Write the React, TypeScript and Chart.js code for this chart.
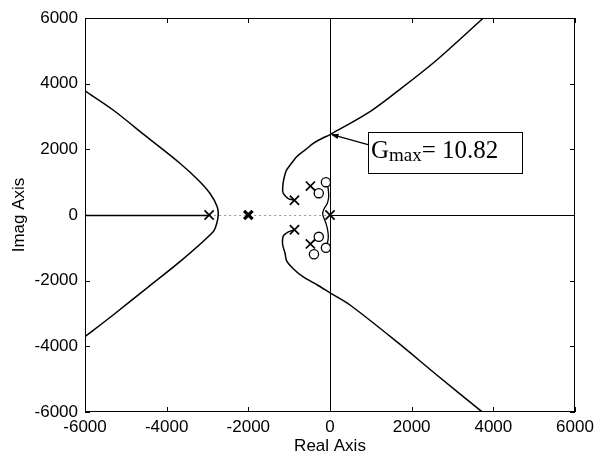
import { useEffect, useRef } from "react";
import { Chart, registerables } from "chart.js";

Chart.register(...registerables);

// ---- data ----
const realTicks = [-6000, -4000, -2000, 0, 2000, 4000, 6000];
const imagTicks = [-6000, -4000, -2000, 0, 2000, 4000, 6000];

const leftBranch = [
  [-6000, 3780], [-5311, 3198], [-4493, 2385], [-3676, 1575], [-3186, 1014],
  [-2941, 661], [-2762, 253], [-2738, 0], [-2775, -260], [-2860, -508],
  [-3676, -1422], [-4493, -2233], [-5311, -3046], [-6000, -3707],
];

const upperBranch = [
  [-870, 450], [-1022, 497], [-1140, 650], [-1160, 761], [-1144, 1005],
  [-1100, 1250], [-1061, 1371], [-980, 1513], [-816, 1776], [-600, 1990],
  [-409, 2184], [-200, 2330], [0, 2450], [980, 3147], [1797, 3908],
  [2615, 4721], [3757, 6000],
];

const lowerBranch = [
  [-870, -450], [-1030, -520], [-1144, -640], [-1160, -900], [-1103, -1150],
  [-1061, -1400], [-900, -1635], [-654, -1888], [-300, -2140], [0, -2370],
  [490, -2741], [1634, -3859], [2615, -4874], [3718, -5990],
];

const innerBranch = [
  [-100, 1000], [-65, 934], [-41, 761], [-33, 558], [-65, 355], [-139, 203],
  [-180, 51], [-163, -51], [-114, -203], [-65, -406], [-41, -660],
  [-65, -863], [-100, -1000],
];

const upperPairSegment = [[-480, 880], [-275, 665]];
const lowerPairSegment = [[-480, -880], [-275, -665]];

const realLocusSegment = [[-6000, 0], [-2960, 0]];
const realAxisDotted = [[-2960, 0], [0, 0]];
const realAxisRight = [[0, 0], [6000, 0]];
const imagAxisLine = [[0, -6000], [0, 6000]];

const poles = [[-2960, 0], [-870, 450], [-870, -450], [-480, 880], [-480, -880], [0, 0]];
const doublePoles = [[-2000, 0]];
const zeros = [[-100, 1000], [-100, -1000], [-275, 665], [-275, -665], [-392, -1197]];

const gmaxPoint = [0, 2450];
const gmaxValue = "10.82";

const xTitle = "Real Axis";
const yTitle = "Imag Axis";

// ---- helpers ----
const pts = (arr: number[][]) => arr.map(([x, y]) => ({ x, y }));
const FONT = '"Liberation Sans", Arial, sans-serif';

const lineDs = (arr: number[][], extra: any = {}) => ({
  data: pts(arr),
  showLine: true,
  borderColor: "#000",
  borderWidth: 1.5,
  pointRadius: 0,
  fill: false,
  tension: 0.3,
  order: 2,
  ...extra,
});

const snap = (v: number) => Math.round(v) + 0.5;

const framePlugin = {
  id: "frame",
  beforeDatasetsDraw(chart: any) {
    const { ctx, scales } = chart;
    const xs = scales.x;
    const ys = scales.y;
    ctx.save();
    ctx.strokeStyle = "#000";
    ctx.lineWidth = 1;
    ctx.beginPath();
    // imaginary axis line
    const vx = snap(xs.getPixelForValue(imagAxisLine[0][0]));
    ctx.moveTo(vx, ys.getPixelForValue(imagAxisLine[0][1]));
    ctx.lineTo(vx, ys.getPixelForValue(imagAxisLine[1][1]));
    // right part of real axis
    const hy = snap(ys.getPixelForValue(realAxisRight[0][1]));
    ctx.moveTo(xs.getPixelForValue(realAxisRight[0][0]), hy);
    ctx.lineTo(xs.getPixelForValue(realAxisRight[1][0]), hy);
    ctx.stroke();
    // dotted middle part
    ctx.strokeStyle = "#999";
    ctx.setLineDash([2, 3]);
    ctx.beginPath();
    ctx.moveTo(xs.getPixelForValue(realAxisDotted[0][0]), hy);
    ctx.lineTo(xs.getPixelForValue(realAxisDotted[1][0]), hy);
    ctx.stroke();
    ctx.setLineDash([]);
    // solid real-axis locus segment
    ctx.strokeStyle = "#000";
    ctx.lineWidth = 1.5;
    ctx.beginPath();
    ctx.moveTo(xs.getPixelForValue(realLocusSegment[0][0]), hy);
    ctx.lineTo(xs.getPixelForValue(realLocusSegment[1][0]), hy);
    ctx.stroke();
    ctx.restore();
  },
  afterDraw(chart: any) {
    const { ctx, chartArea, scales } = chart;
    const { left, right, top, bottom } = chartArea;
    const xs = scales.x;
    const ys = scales.y;
    ctx.save();
    ctx.strokeStyle = "#000";
    ctx.lineWidth = 1;
    ctx.strokeRect(left + 0.5, top + 0.5, right - left - 1, bottom - top - 1);
    const tl = 5;
    ctx.beginPath();
    realTicks.forEach((v) => {
      const px = snap(xs.getPixelForValue(v));
      ctx.moveTo(px, bottom);
      ctx.lineTo(px, bottom - tl);
      ctx.moveTo(px, top);
      ctx.lineTo(px, top + tl);
    });
    imagTicks.forEach((v) => {
      const py = snap(ys.getPixelForValue(v));
      ctx.moveTo(left, py);
      ctx.lineTo(left + tl, py);
      ctx.moveTo(right, py);
      ctx.lineTo(right - tl, py);
    });
    ctx.stroke();

    // axis titles
    ctx.fillStyle = "#000";
    ctx.font = `17px ${FONT}`;
    ctx.textAlign = "center";
    ctx.textBaseline = "middle";
    ctx.fillText(xTitle, (left + right) / 2, 446);
    ctx.save();
    ctx.translate(19, (top + bottom) / 2);
    ctx.rotate(-Math.PI / 2);
    ctx.fillText(yTitle, 0, 0);
    ctx.restore();

    // annotation
    const tx = xs.getPixelForValue(gmaxPoint[0]);
    const ty = ys.getPixelForValue(gmaxPoint[1]);
    const bl = tx + 38;
    const bt = ty - 3;
    const bw = 154;
    const bh = 41;
    ctx.fillStyle = "#fff";
    ctx.fillRect(bl, bt, bw, bh);
    ctx.strokeStyle = "#000";
    ctx.lineWidth = 1;
    ctx.strokeRect(Math.round(bl) + 0.5, Math.round(bt) + 0.5, bw, bh);
    ctx.fillStyle = "#000";
    ctx.textAlign = "left";
    ctx.textBaseline = "alphabetic";
    const serif = '"Liberation Serif", "Times New Roman", serif';
    ctx.font = `25px ${serif}`;
    let cx = bl + 3;
    ctx.fillText("G", cx, ty + 23);
    cx += ctx.measureText("G").width;
    ctx.font = `19px ${serif}`;
    ctx.fillText("max", cx, ty + 26);
    cx += ctx.measureText("max").width;
    ctx.font = `25px ${serif}`;
    ctx.fillText("= " + gmaxValue, cx, ty + 23);

    // arrow
    const sx = bl;
    const sy = ty + 10;
    ctx.beginPath();
    ctx.moveTo(sx, sy);
    ctx.lineTo(tx + 2, ty);
    ctx.lineWidth = 1.2;
    ctx.stroke();
    const ang = Math.atan2(ty - sy, tx - sx);
    const ah = 8;
    const aw = 0.35;
    ctx.beginPath();
    ctx.moveTo(tx + 1, ty);
    ctx.lineTo(tx + 1 - ah * Math.cos(ang - aw), ty - ah * Math.sin(ang - aw));
    ctx.lineTo(tx + 1 - ah * Math.cos(ang + aw), ty - ah * Math.sin(ang + aw));
    ctx.closePath();
    ctx.fill();
    ctx.restore();
  },
};

export default function App() {
  const ref = useRef<HTMLCanvasElement | null>(null);
  useEffect(() => {
    if (!ref.current) return;
    const chart = new Chart(ref.current, {
      type: "scatter",
      data: {
        datasets: [
          {
            data: pts(poles),
            pointStyle: "crossRot",
            pointRadius: 6.5,
            pointBorderWidth: 1.7,
            borderColor: "#000",
            showLine: false,
            order: 0,
          } as any,
          {
            data: pts(doublePoles),
            pointStyle: "crossRot",
            pointRadius: 6,
            pointBorderWidth: 3.2,
            borderColor: "#000",
            showLine: false,
            order: 0,
          } as any,
          {
            data: pts(zeros),
            pointStyle: "circle",
            pointRadius: 4.6,
            pointBorderWidth: 1.3,
            borderColor: "#000",
            backgroundColor: "#fff",
            showLine: false,
            order: 0,
          } as any,
          lineDs(leftBranch),
          lineDs(upperBranch),
          lineDs(lowerBranch),
          lineDs(innerBranch, { borderWidth: 1.3 }),
          lineDs(upperPairSegment, { tension: 0, borderWidth: 1.3 }),
          lineDs(lowerPairSegment, { tension: 0, borderWidth: 1.3 }),
        ] as any,
      },
      options: {
        animation: false,
        responsive: false,
        maintainAspectRatio: false,
        layout: { padding: { left: 0, right: 31, top: 18, bottom: 0 } },
        plugins: { legend: { display: false }, tooltip: { enabled: false } },
        scales: {
          x: {
            type: "linear",
            min: -6000,
            max: 6000,
            afterBuildTicks: (s: any) => {
              s.ticks = realTicks.map((v) => ({ value: v }));
            },
            afterFit: (s: any) => {
              s.height = 45;
            },
            grid: { display: false, drawTicks: false },
            border: { display: false },
            ticks: {
              padding: 5,
              color: "#000",
              autoSkip: false,
              maxRotation: 0,
              font: { family: FONT, size: 17 },
              callback: (v: any) => String(v),
            },
          },
          y: {
            type: "linear",
            min: -6000,
            max: 6000,
            afterBuildTicks: (s: any) => {
              s.ticks = imagTicks.map((v) => ({ value: v }));
            },
            afterFit: (s: any) => {
              s.width = 85;
            },
            grid: { display: false, drawTicks: false },
            border: { display: false },
            ticks: {
              padding: 7,
              color: "#000",
              autoSkip: false,
              font: { family: FONT, size: 17 },
              callback: (v: any) => String(v),
            },
          },
        },
      },
      plugins: [framePlugin],
    });
    return () => chart.destroy();
  }, []);
  return (
    <div style={{ position: "fixed", left: 0, top: 0, width: 606, height: 457, background: "#fff" }}>
      <canvas ref={ref} width={606} height={457} style={{ width: 606, height: 457, display: "block" }} />
    </div>
  );
}
